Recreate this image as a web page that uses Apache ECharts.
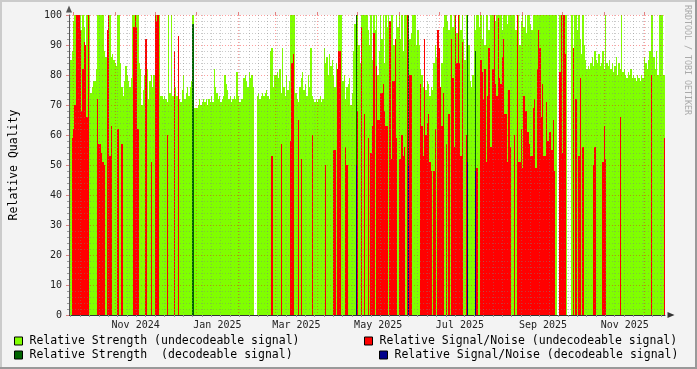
<!DOCTYPE html>
<html><head><meta charset="utf-8">
<script src="https://cdn.jsdelivr.net/npm/echarts@6/dist/echarts.min.js"></script>
<style>html,body{margin:0;padding:0;background:#f3f3f3}#c{width:697px;height:369px}</style>
</head><body><div id="c"></div>
<script>
const _ = null;
// one value per day, starting at startDate
const startDate = '2024-09-27T18:00:00Z';
const spanDays = 444.8;
const tickLabels = ['Nov 2024','Jan 2025','Mar 2025','May 2025','Jul 2025','Sep 2025','Nov 2025'];
const tickLabelDates = ['2024-11-16T12:00:00Z','2025-01-16T12:00:00Z','2025-03-16T12:00:00Z','2025-05-16T12:00:00Z','2025-07-16T12:00:00Z','2025-09-16T12:00:00Z','2025-11-16T12:00:00Z'];
const seriesNames = ['Relative Strength (undecodeable signal)','Relative Signal/Noise (undecodeable signal)','Relative Strength  (decodeable signal)','Relative Signal/Noise (decodeable signal)'];

const strengthUndecodeable = [
97,85,88,98,100,100,98,100,100,95,
100,96,88,100,100,100,74,76,78,78,
82,100,100,100,100,100,88,86,84,100,
100,86,87,85,84,83,100,100,84,76,
73,78,83,80,78,76,79,100,100,96,
100,100,84,82,70,75,80,90,82,72,
78,80,76,80,77,100,100,100,73,73,
72,73,72,71,100,74,100,73,84,76,
73,73,72,71,75,80,72,74,76,73,
76,78,100,69,69,69,70,72,70,71,
72,71,72,70,72,71,
73,71,82,76,74,
72,73,71,72,73,80,77,75,72,73,
71,72,73,72,81,73,71,72,72,79,
80,78,76,81,79,80,76,_,_,73,
74,72,73,74,73,74,75,73,72,88,
89,76,80,80,81,79,82,74,89,76,
73,80,75,78,100,100,100,100,74,72,
71,76,79,81,75,77,73,80,76,89,
73,72,71,72,71,72,73,71,72,89,
84,86,80,87,83,85,80,76,84,73,
100,100,100,78,80,72,76,77,79,70,
74,88,97,86,100,90,84,100,100,100,
100,100,95,90,100,85,100,95,100,80,
88,100,92,100,84,100,96,100,83,100,
100,90,78,100,96,100,92,100,88,100,
100,100,100,92,94,100,100,100,90,95,
90,82,80,76,74,75,78,77,73,76,
75,84,90,86,80,78,74,84,96,100,
100,98,95,100,100,96,100,100,94,100,
100,95,100,92,85,100,100,90,78,76,
80,100,95,100,100,96,100,92,100,90,
100,100,95,100,100,100,100,98,100,100,
100,100,95,100,100,100,97,100,100,100,
100,
100,95,92,100,90,98,100,96,100,94,
100,100,97,95,100,100,100,100,100,100,
100,100,100,100,100,100,100,100,100,100,
100,100,_,_,100,100,100,100,100,100,
_,_,_,100,89,100,100,95,100,92,
87,100,90,85,82,83,82,84,86,83,
88,85,84,87,83,84,88,82,100,84,
83,85,82,84,81,83,86,80,84,82,
100,81,82,80,79,81,80,82,79,80,
79,78,80,79,78,80,79,86,84,82,
85,88,100,100,86,82,88,80,100,100,100,80,80
];

const snrUndecodeable = [
_,_,59,62,70,100,100,100,95,68,
82,91,90,66,100,_,_,_,_,_,
_,72,57,57,54,51,50,_,95,100,
53,63,_,_,_,_,62,_,_,57,
_,_,_,_,_,_,_,_,96,100,
96,62,_,_,_,_,_,92,_,_,
_,51,_,_,100,98,100,_,_,_,
_,_,_,60,_,_,_,_,88,_,
_,93,_,_,_,_,_,_,_,_,
_,_,_,_,_,_,_,_,_,_,
_,_,_,_,_,_,
_,_,_,_,_,
_,_,_,_,_,_,_,_,_,_,
_,_,_,_,_,_,_,_,_,_,
_,_,_,_,_,_,_,_,_,_,
_,_,_,_,_,_,_,_,_,_,
53,_,_,_,_,_,_,57,_,_,
_,_,_,_,58,84,87,_,_,_,
65,_,52,_,_,_,_,_,_,_,
60,_,_,_,_,_,_,_,_,_,
50,_,_,_,_,_,55,55,_,82,
88,88,_,_,_,56,50,_,_,_,
_,_,_,_,68,_,_,96,_,67,
_,_,59,_,54,63,94,_,83,65,
65,74,74,77,68,63,63,_,98,52,
78,78,92,59,_,52,52,60,53,56,
_,100,_,80,80,_,_,_,_,_,
_,77,63,53,92,60,64,67,51,48,
_,48,62,_,95,89,76,63,74,_,
57,_,67,_,92,79,56,100,84,100,
84,53,91,_,_,60,_,_,_,_,
_,_,_,49,_,_,85,81,72,82,
51,73,89,56,56,82,100,77,73,99,
79,77,86,92,67,67,51,75,56,_,
_,
60,_,100,51,51,62,49,73,68,68,
61,57,53,53,69,72,49,82,95,89,
66,77,53,53,71,58,61,61,55,65,
48,_,_,_,81,100,54,100,87,_,
_,_,_,_,89,_,72,_,53,79,
_,56,_,_,_,_,_,_,_,50,
56,_,_,_,_,_,51,63,52,_,
_,_,_,_,_,_,_,_,_,66,
_,_,_,_,_,_,_,_,_,_,
_,_,_,_,_,_,_,_,_,_,
_,_,80,_,_,_,_,_,_,_,_,_,59
];

const strengthDecodeableDays = [92, 214, 253, 297, 303];
const strengthDecodeableValues = [97, 100, 100, 100, 88];
const snrDecodeableDays = [214, 253, 297, 303];
const snrDecodeableValues = [50, 50, 51, 48];

const colors = ['#80ff00', '#ff0000', '#006400', '#00008b'];
const FONT = 'DejaVu Sans Mono';
const DAY = 86400000;
const startMs = Date.parse(startDate);
const toOffset = d => (Date.parse(d) - startMs) / DAY;

// grid positions from the calendar
const monthStartOffsets = [];
for (let y = 2024, m = 9; y < 2026; ) {
  const o = (Date.UTC(y, m, 1) - startMs) / DAY;
  if (o > 0 && o < spanDays) monthStartOffsets.push(o);
  m++; if (m > 11) { m = 0; y++; }
}
const weekOffsets = [];
for (let t = Date.UTC(2024, 8, 29); t < startMs + spanDays * DAY; t += 7 * DAY) {
  const o = (t - startMs) / DAY;
  if (o > 0) weekOffsets.push(o);
}
const labelOffsets = tickLabelDates.map(toOffset);

function toPairs(arr) { const out = []; arr.forEach((v, i) => { if (v != null) out.push([i, v]); }); return out; }
function fromLists(days, vals) { return days.map((d, i) => [d, vals[i]]); }

function makeRender(color) {
  return function (params, api) {
    const i = api.value(0), v = api.value(1);
    const a = api.coord([i, 0]), b = api.coord([i + 1, v]);
    const x0 = Math.round(a[0]), x1 = Math.round(b[0]);
    const y0 = Math.round(a[1]), y1 = Math.round(b[1]);
    return { type: 'rect', shape: { x: x0, y: y1, width: Math.max(1, x1 - x0), height: y0 - y1 }, style: { fill: color } };
  };
}

const gridGray = 'rgba(128,128,128,0.42)';
const gridRed = 'rgba(255,0,0,0.38)';

const chart = echarts.init(document.getElementById('c'), null, { renderer: 'canvas' });
chart.setOption({
  animation: false,
  backgroundColor: '#f3f3f3',
  textStyle: { fontFamily: FONT },
  grid: { left: 67, top: 15, width: 598, height: 300, show: true, backgroundColor: '#ffffff', borderWidth: 0 },
  xAxis: [
    {
      type: 'value', min: 0, max: spanDays, z: 10,
      axisLine: { show: true, lineStyle: { color: '#333', width: 1 }, symbol: ['none', 'triangle'], symbolSize: [6, 7], symbolOffset: [0, 6] },
      axisTick: { show: true, customValues: weekOffsets, length: 2, lineStyle: { color: '#999' } },
      splitLine: { show: true, lineStyle: { color: gridGray, type: [1, 2], width: 1 } },
      axisLabel: {
        customValues: labelOffsets, margin: 5, fontSize: 10, fontFamily: FONT, color: '#222',
        formatter: v => { const k = labelOffsets.findIndex(o => Math.abs(o - v) < 0.01); return k >= 0 ? tickLabels[k] : ''; }
      }
    },
    {
      type: 'value', min: 0, max: spanDays, z: 11,
      axisLine: { show: false },
      axisTick: { show: true, customValues: monthStartOffsets, length: 3, lineStyle: { color: '#e08080' } },
      splitLine: { show: true, lineStyle: { color: gridRed, type: [1, 2], width: 1 } },
      axisLabel: { show: false }
    }
  ],
  yAxis: {
    type: 'value', min: 0, max: 100, interval: 10, z: 10,
    name: 'Relative Quality', nameLocation: 'middle', nameGap: 49,
    nameTextStyle: { fontFamily: FONT, fontSize: 11.5, color: '#000' },
    axisLine: { show: true, lineStyle: { color: '#555', width: 1 }, symbol: ['none', 'triangle'], symbolSize: [6, 7], symbolOffset: [0, 6] },
    axisTick: { show: true, length: 3, lineStyle: { color: '#e08080' } },
    minorTick: { show: true, splitNumber: 5, length: 2, lineStyle: { color: '#999' } },
    splitLine: { show: true, lineStyle: { color: gridRed, type: [1, 2], width: 1 } },
    minorSplitLine: { show: true, lineStyle: { color: gridGray, type: [1, 2], width: 1 } },
    axisLabel: { margin: 7, fontSize: 10, fontFamily: FONT, color: '#222' }
  },
  legend: [
    { left: 14, top: 334, orient: 'vertical', padding: 0, itemGap: 0, itemWidth: 8, itemHeight: 8, icon: 'rect', selectedMode: false,
      itemStyle: { borderColor: '#000', borderWidth: 1 },
      textStyle: { fontFamily: FONT, fontSize: 11.5, color: '#000', lineHeight: 14, padding: [0, 0, 0, 2] },
      data: [seriesNames[0], seriesNames[2]] },
    { left: 364, top: 334, orient: 'vertical', padding: 0, itemGap: 0, itemWidth: 8, itemHeight: 8, icon: 'rect', selectedMode: false,
      itemStyle: { borderColor: '#000', borderWidth: 1 },
      textStyle: { fontFamily: FONT, fontSize: 11.5, color: '#000', lineHeight: 14, padding: [0, 0, 0, 2] },
      data: [seriesNames[1]] },
    { left: 379, top: 348, orient: 'vertical', padding: 0, itemGap: 0, itemWidth: 8, itemHeight: 8, icon: 'rect', selectedMode: false,
      itemStyle: { borderColor: '#000', borderWidth: 1 },
      textStyle: { fontFamily: FONT, fontSize: 11.5, color: '#000', lineHeight: 14, padding: [0, 0, 0, 2] },
      data: [seriesNames[3]] }
  ],
  graphic: [
    { type: 'rect', left: 0, top: 0, shape: { width: 697, height: 2 }, style: { fill: '#cbcbcb' }, silent: true },
    { type: 'rect', left: 0, top: 0, shape: { width: 2, height: 369 }, style: { fill: '#cbcbcb' }, silent: true },
    { type: 'rect', left: 0, top: 367, shape: { width: 697, height: 2 }, style: { fill: '#999999' }, silent: true },
    { type: 'rect', left: 695, top: 0, shape: { width: 2, height: 369 }, style: { fill: '#999999' }, silent: true },
    { type: 'text', x: 687, y: 5, rotation: -Math.PI / 2, silent: true,
      style: { text: 'RRDTOOL / TOBI OETIKER', font: '8.3px "DejaVu Sans Mono"', fill: '#aaaaaa', textVerticalAlign: 'middle', textAlign: 'left' } }
  ],
  series: [
    { name: seriesNames[0], type: 'custom', renderItem: makeRender(colors[0]), itemStyle: { color: colors[0] }, encode: { x: 0, y: 1 }, data: toPairs(strengthUndecodeable), z: 2 },
    { name: seriesNames[1], type: 'custom', renderItem: makeRender(colors[1]), itemStyle: { color: colors[1] }, encode: { x: 0, y: 1 }, data: toPairs(snrUndecodeable), z: 3 },
    { name: seriesNames[2], type: 'custom', renderItem: makeRender(colors[2]), itemStyle: { color: colors[2] }, encode: { x: 0, y: 1 }, data: fromLists(strengthDecodeableDays, strengthDecodeableValues), z: 4 },
    { name: seriesNames[3], type: 'custom', renderItem: makeRender(colors[3]), itemStyle: { color: colors[3] }, encode: { x: 0, y: 1 }, data: fromLists(snrDecodeableDays, snrDecodeableValues), z: 5 }
  ]
});
</script></body></html>
